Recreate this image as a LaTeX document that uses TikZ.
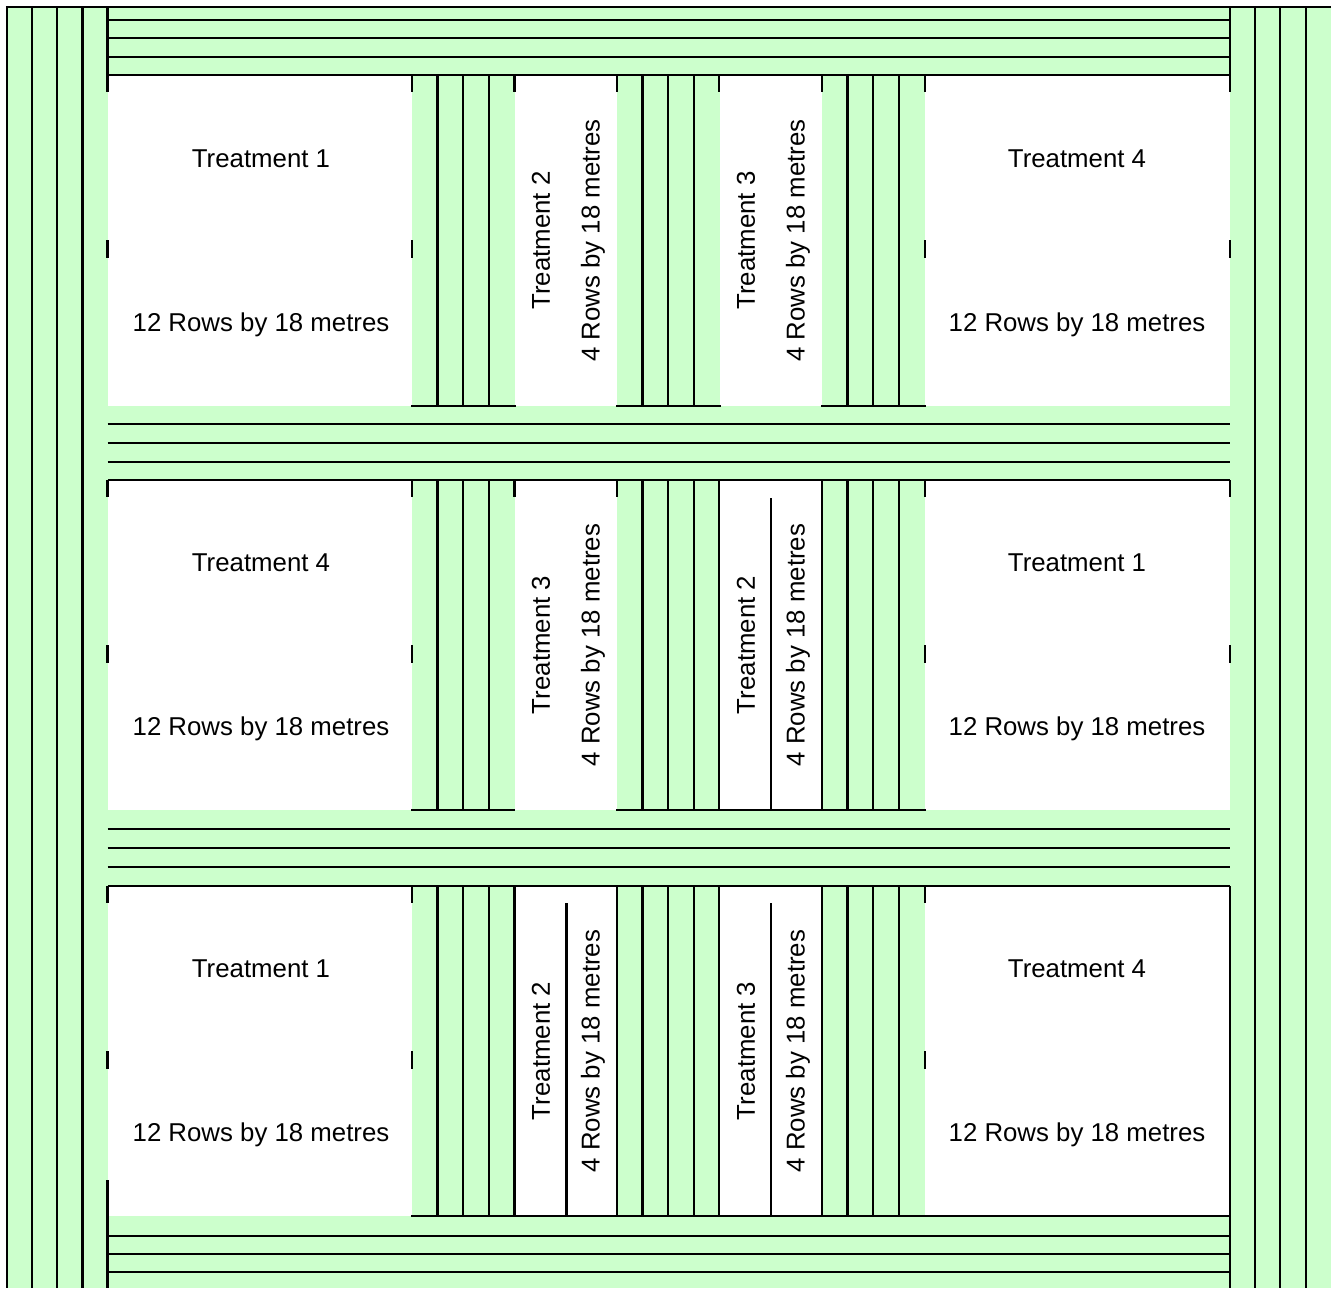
\documentclass[tikz,border=0pt]{standalone}
\usepackage{fontspec}
\setmainfont{Liberation Sans}
\definecolor{plotgreen}{HTML}{CCFFCC}
\begin{document}
\begin{tikzpicture}[x=1pt,y=-1pt,
  lbl/.style={font=\fontsize{25.8}{30}\selectfont,inner sep=0pt},
  rlbl/.style={lbl,rotate=90},
  edge/.style={line width=2.4pt}]
\useasboundingbox (0,0) rectangle (1336,1288);
\fill[white] (0,0) rectangle (1336,1288);
% green areas
\fill[plotgreen] (7,7) rectangle (107.5,1288);
\fill[plotgreen] (1230,7) rectangle (1331,1288);
\fill[plotgreen] (107,7) rectangle (1230,75);
\fill[plotgreen] (107,406) rectangle (1230,480);
\fill[plotgreen] (107,810) rectangle (1230,886);
\fill[plotgreen] (107,1216) rectangle (1230,1288);
\foreach \a in {412,617,822}
  \foreach \r/\b in {75/406,480/810,886/1216}
    \fill[plotgreen] (\a,\r) rectangle (\a+102.5,\b);
% outer strips
\draw[edge] (5.8,7) -- (1331,7);
\foreach \x in {7,32,57,82.5,1255,1280,1306}
  \draw[edge] (\x,7) -- (\x,1288);
\foreach \y in {20,38,57,75,424,443,462,480,829,848,867,886,1236,1254,1272}
  \draw[edge] (107.5,\y) -- (1230,\y);
% column groups
\foreach \a in {412,617,822}
  \foreach \r/\b in {75/406,480/810,886/1216}
    \foreach \k in {1,2,3}
      \draw[edge] (\a+25.6*\k,\r) -- (\a+25.6*\k,\b);
\foreach \a in {412,617,822}
  \draw[edge] (\a-1,406) -- (\a+103.5,406);
\draw[edge] (411,810) -- (515,810);
\draw[edge] (616,810) -- (926,810);
\draw[edge] (411,1216) -- (1231,1216);
% plot borders, row 1
\draw[edge] (107.5,7) -- (107.5,92);
\draw[edge] (1230,7) -- (1230,92);
\foreach \x in {412,514.5,617,719,822,925}
  \draw[edge] (\x,75) -- (\x,92);
\foreach \x in {107.5,412,925,1230}
  \draw[edge] (\x,240) -- (\x,258);
% row 2
\foreach \x in {107.5,412,514.5,617,925,1230}
  \draw[edge] (\x,480) -- (\x,497);
\foreach \x in {107.5,412,925,1230}
  \draw[edge] (\x,645) -- (\x,663);
\foreach \x in {719,822}
  \draw[edge] (\x,480) -- (\x,810);
\draw[edge] (771,498) -- (771,810);
% row 3
\foreach \x in {514.5,617,719,822}
  \draw[edge] (\x,886) -- (\x,1216);
\draw[edge] (566.5,903) -- (566.5,1216);
\draw[edge] (771,903) -- (771,1216);
\foreach \x in {107.5,412,925}
  \draw[edge] (\x,886) -- (\x,903);
\foreach \x in {107.5,412,925}
  \draw[edge] (\x,1051) -- (\x,1069);
\draw[edge] (1230,886) -- (1230,1288);
\draw[edge] (107.5,1180) -- (107.5,1288);
% labels row 1
\node[lbl] (t11) at (261,158.5) {Treatment 1};
\node[lbl] (s11) at (261,324.5) {12 Rows by 18 metres};
\node[lbl] (t14) at (1077,158.5) {Treatment 4};
\node[lbl] (s14) at (1077,324.5) {12 Rows by 18 metres};
\node[rlbl] (t12) at (541,240.5) {Treatment 2};
\node[rlbl] (s12) at (593,240.5) {4 Rows by 18 metres};
\node[rlbl] (t13) at (746,240.5) {Treatment 3};
\node[rlbl] (s13) at (798,240.5) {4 Rows by 18 metres};
% labels row 2
\node[lbl] (t24) at (261,563) {Treatment 4};
\node[lbl] (s24) at (261,729) {12 Rows by 18 metres};
\node[lbl] (t21) at (1077,563) {Treatment 1};
\node[lbl] (s21) at (1077,729) {12 Rows by 18 metres};
\node[rlbl] (t23) at (541,645) {Treatment 3};
\node[rlbl] (s23) at (593,645) {4 Rows by 18 metres};
\node[rlbl] (t22) at (746,645) {Treatment 2};
\node[rlbl] (s22) at (798,645) {4 Rows by 18 metres};
% labels row 3
\node[lbl] (t31) at (261,969) {Treatment 1};
\node[lbl] (s31) at (261,1135) {12 Rows by 18 metres};
\node[lbl] (t34) at (1077,969) {Treatment 4};
\node[lbl] (s34) at (1077,1135) {12 Rows by 18 metres};
\node[rlbl] (t32) at (541,1051) {Treatment 2};
\node[rlbl] (s32) at (593,1051) {4 Rows by 18 metres};
\node[rlbl] (t33) at (746,1051) {Treatment 3};
\node[rlbl] (s33) at (798,1051) {4 Rows by 18 metres};
\end{tikzpicture}
\end{document}
